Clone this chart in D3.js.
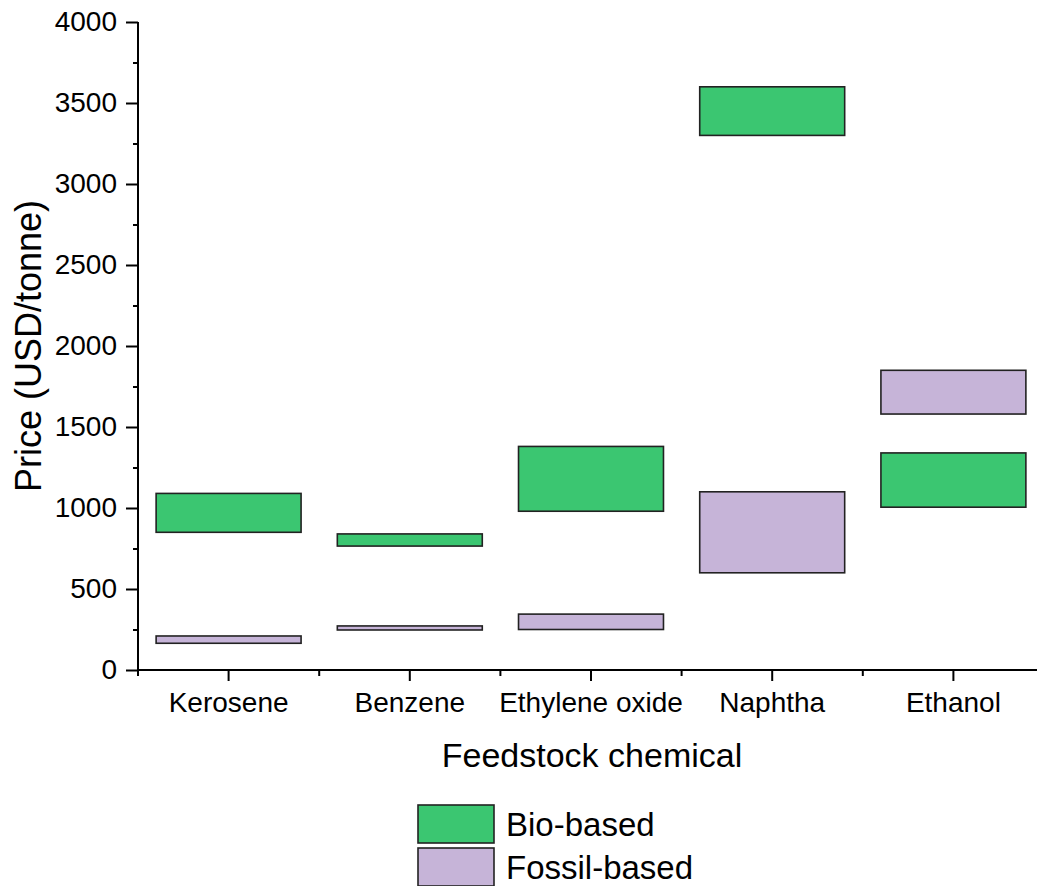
<!DOCTYPE html>
<html>
<head>
<meta charset="utf-8">
<script src="https://cdn.jsdelivr.net/npm/d3@7"></script>
<style>
  html, body { margin: 0; padding: 0; background: #fff; }
  svg { display: block; font-family: "Liberation Sans", Arial, sans-serif; }
</style>
</head>
<body>
<svg id="chart" width="1037" height="886"></svg>
<script>
// ---- data ----
const categories = ["Kerosene", "Benzene", "Ethylene oxide", "Naphtha", "Ethanol"];
const bioLow   = [850, 765, 980, 3300, 1005];
const bioHigh  = [1090, 840, 1380, 3600, 1340];
const fossilLow  = [165, 247, 250, 600, 1580];
const fossilHigh = [210, 272, 345, 1100, 1850];
const seriesNames = ["Bio-based", "Fossil-based"];
const seriesColors = ["#3bc671", "#c6b4d8"];
const yTicks = [0, 500, 1000, 1500, 2000, 2500, 3000, 3500, 4000];
const yMinorTicks = [250, 750, 1250, 1750, 2250, 2750, 3250, 3750];

const svg = d3.select("#chart");
const mLeft = 138, mRight = 1044, mTop = 22, mBottom = 670;

const x = d3.scaleBand().domain(categories).range([mLeft, mRight]).paddingInner(0.2).paddingOuter(0.1);
const y = d3.scaleLinear().domain([0, 4000]).range([mBottom, mTop]);

const series = [
  { name: seriesNames[0], color: seriesColors[0], low: bioLow, high: bioHigh },
  { name: seriesNames[1], color: seriesColors[1], low: fossilLow, high: fossilHigh }
];

// bars (floating ranges)
series.forEach(s => {
  svg.append("g").selectAll("rect")
    .data(categories.map((c, i) => ({ c, lo: s.low[i], hi: s.high[i] })))
    .join("rect")
    .attr("x", d => x(d.c))
    .attr("width", x.bandwidth())
    .attr("y", d => y(d.hi))
    .attr("height", d => y(d.lo) - y(d.hi))
    .attr("fill", s.color)
    .attr("stroke", "#222")
    .attr("stroke-width", 1.6);
});

// y axis
const yAxis = svg.append("g").attr("transform", `translate(${mLeft},0)`)
  .call(d3.axisLeft(y).tickValues(yTicks).tickSize(12).tickSizeOuter(0).tickPadding(9).tickFormat(d3.format("d")));
yAxis.select(".domain").attr("stroke-width", 2).attr("d", `M0,${mTop}V${mBottom}`);
yAxis.selectAll(".tick line").attr("stroke-width", 2);
yAxis.selectAll(".tick text").attr("font-size", 28).attr("fill", "#000").attr("font-family", "Liberation Sans, Arial, sans-serif");
const yMinor = svg.append("g").attr("transform", `translate(${mLeft},0)`)
  .call(d3.axisLeft(y).tickValues(yMinorTicks).tickSize(5).tickFormat(""));
yMinor.select(".domain").remove();
yMinor.selectAll(".tick line").attr("stroke-width", 2);

// x axis
const xAxis = svg.append("g").attr("transform", `translate(0,${mBottom})`)
  .call(d3.axisBottom(x).tickSize(11).tickSizeOuter(0).tickPadding(11));
xAxis.select(".domain").attr("stroke-width", 2).attr("d", `M${mLeft},0H1037`);
xAxis.selectAll(".tick line").attr("stroke-width", 2);
xAxis.selectAll(".tick text").attr("font-size", 28).attr("fill", "#000").attr("font-family", "Liberation Sans, Arial, sans-serif");
// minor ticks at category boundaries
const step = x.step();
const bounds = categories.map(c => x(c) + x.bandwidth() / 2 - step / 2);
bounds.push(x(categories[categories.length - 1]) + x.bandwidth() / 2 + step / 2);
svg.append("g").selectAll("line").data(bounds.filter(b => b < 1037)).join("line")
  .attr("x1", d => d).attr("x2", d => d)
  .attr("y1", mBottom).attr("y2", mBottom + 6)
  .attr("stroke", "#000").attr("stroke-width", 2);

// axis titles
svg.append("text")
  .attr("x", 592).attr("y", 767)
  .attr("text-anchor", "middle").attr("font-size", 34).attr("fill", "#000")
  .text("Feedstock chemical");
svg.append("text")
  .attr("transform", `translate(41,346) rotate(-90)`)
  .attr("text-anchor", "middle").attr("font-size", 36).attr("fill", "#000")
  .text("Price (USD/tonne)");

// legend
const lg = svg.append("g").attr("transform", "translate(418,805)");
series.forEach((s, i) => {
  const g = lg.append("g").attr("transform", `translate(0,${i * 43})`);
  g.append("rect").attr("width", 76).attr("height", 38)
    .attr("fill", s.color).attr("stroke", "#222").attr("stroke-width", 1.6);
  g.append("text").attr("x", 88).attr("y", 31)
    .attr("font-size", 33).attr("fill", "#000").text(s.name);
});
</script>
</body>
</html>
